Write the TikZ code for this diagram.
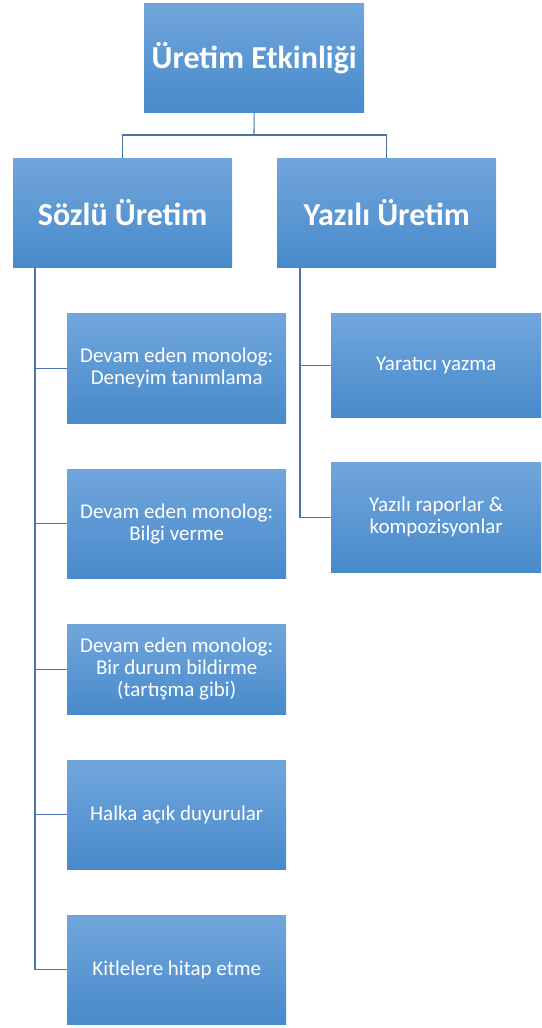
\documentclass[tikz,border=0pt]{standalone}
\usepackage{fontspec}
\setmainfont{Carlito}
\definecolor{gtop}{RGB}{113,166,220}
\definecolor{gmid}{RGB}{91,155,213}
\definecolor{gbot}{RGB}{72,138,203}
\definecolor{conn}{RGB}{72,118,168}
\tikzset{
  box/.style={rectangle, anchor=north west, inner sep=2pt, align=center, text=white,
    top color=gtop, middle color=gmid, bottom color=gbot, draw=none},
  head/.style={box, font=\fontsize{32}{36}\selectfont\bfseries},
  leaf/.style={box, font=\fontsize{21}{22}\selectfont},
  link/.style={draw=conn, line width=1.1pt},
}
\begin{document}
\begin{tikzpicture}[x=1pt,y=-1pt]
\useasboundingbox (0,0) rectangle (541,1028);
\node[head, minimum width=220pt, minimum height=109pt] (top) at (144,3) {Üretim Etkinliği};
\node[head, minimum width=219pt, minimum height=109pt] (soz) at (13,158) {Sözlü Üretim};
\node[head, minimum width=219pt, minimum height=109pt] (yaz) at (277,158) {Yazılı Üretim};
\node[leaf, minimum width=219pt, minimum height=110pt] (s1) at (67,313) {Devam eden monolog:\\Deneyim tanımlama};
\node[leaf, minimum width=219pt, minimum height=109pt] (s2) at (67,469) {Devam eden monolog:\\Bilgi verme};
\node[leaf, minimum width=219pt, minimum height=90pt] (s3) at (67,624) {Devam eden monolog:\\Bir durum bildirme\\(tartışma gibi)};
\node[leaf, minimum width=219pt, minimum height=109pt] (s4) at (67,760) {Halka açık duyurular};
\node[leaf, minimum width=219pt, minimum height=109pt] (s5) at (67,915) {Kitlelere hitap etme};
\node[leaf, minimum width=210pt, minimum height=104pt] (y1) at (331,313) {Yaratıcı yazma};
\node[leaf, minimum width=210pt, minimum height=110pt] (y2) at (331,462) {Yazılı raporlar \&\\kompozisyonlar};
\coordinate (mid) at (254,135);
\draw[link] (top.south) -- (mid);
\draw[link] (mid) -| (soz.north);
\draw[link] (mid) -| (yaz.north);
\coordinate (sl) at ([xshift=22pt]soz.south west);
\coordinate (yl) at ([xshift=23pt]yaz.south west);
\foreach \c in {s1,s2,s3,s4,s5} \draw[link] (sl) |- (\c.west);
\foreach \c in {y1,y2} \draw[link] (yl) |- (\c.west);
\end{tikzpicture}
\end{document}
